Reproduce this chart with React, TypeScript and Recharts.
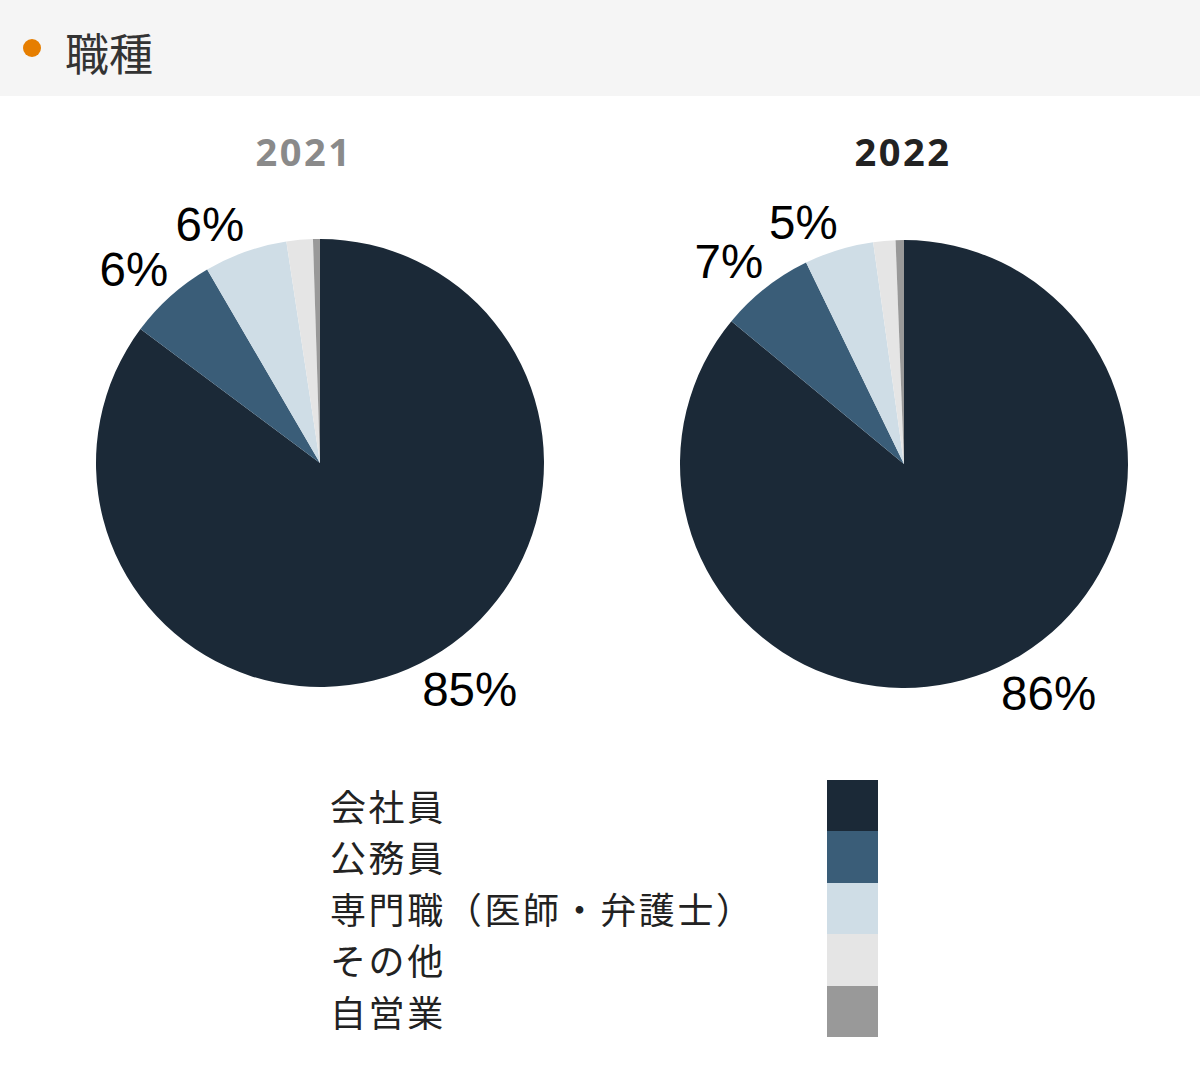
import React from 'react';
import { PieChart, Pie, Cell, Legend } from 'recharts';

const categories = ['会社員', '公務員', '専門職（医師・弁護士）', 'その他', '自営業'];
const colors = ['#1b2937', '#3a5d78', '#cfdde6', '#e5e5e5', '#999999'];
const values2021 = [85.2, 6.4, 6.0, 1.9, 0.5];
const values2022 = [86.0, 6.8, 5.0, 1.6, 0.6];
const years = ['2021', '2022'];

const data2021 = categories.map((name, i) => ({ name, value: values2021[i] }));
const data2022 = categories.map((name, i) => ({ name, value: values2022[i] }));

const RAD = Math.PI / 180;
const LABEL_FONT = 47.5;

const renderLabel = (props: any) => {
  const { cx, cy, midAngle, outerRadius, value } = props;
  if (value < 3) return null;
  const text = `${Math.round(value)}%`;
  const vx = Math.cos(-midAngle * RAD);
  const vy = Math.sin(-midAngle * RAD);
  const offset = 4;
  const px = cx + (outerRadius + offset) * vx;
  const py = cy + (outerRadius + offset) * vy;
  const nDigits = text.length - 1;
  const w = (nDigits * 0.556 + 0.889) * LABEL_FONT;
  const h = 46;
  const x = px + Math.sign(vx) * w / 2;
  const y = py + Math.sign(vy) * h / 2;
  return (
    <text
      x={x}
      y={y}
      textAnchor="middle"
      dominantBaseline="central"
      fill="#000"
      style={{ fontFamily: '"Liberation Sans", Arial, sans-serif', fontSize: LABEL_FONT }}
    >
      {text}
    </text>
  );
};

const LegendContent = () => (
  <div style={{ position: 'relative', width: 560, height: 260 }}>
    {categories.map((c, i) => (
      <div
        key={c}
        style={{
          position: 'absolute',
          left: 0,
          top: i * 51.4,
          height: 51.4,
          lineHeight: '51.4px',
          fontSize: 36,
          color: '#222',
          fontFamily: '"Noto Sans CJK JP", sans-serif',
          whiteSpace: 'nowrap',
          letterSpacing: 2.6,
        }}
      >
        {c}
      </div>
    ))}
    {categories.map((c, i) => (
      <div
        key={c + '-sw'}
        style={{
          position: 'absolute',
          left: 497,
          top: i * 51.4,
          width: 51,
          height: 51.4,
          background: colors[i],
        }}
      />
    ))}
  </div>
);

const yearStyle: React.CSSProperties = {
  position: 'absolute',
  width: 200,
  top: 126,
  textAlign: 'center',
  fontSize: 38,
  fontWeight: 700,
  lineHeight: '50px',
  letterSpacing: 2.5,
  fontFamily: '"Noto Sans", sans-serif',
};

export default function App() {
  return (
    <div style={{ position: 'absolute', left: 0, top: 0, width: 1200, height: 1090, background: '#fff', overflow: 'hidden' }}>
      <div style={{ position: 'absolute', left: 0, top: 0, width: 1200, height: 96, background: '#f5f5f5' }} />
      <div style={{ position: 'absolute', left: 23, top: 39, width: 18, height: 18, borderRadius: 9, background: '#e67e00' }} />
      <div
        style={{
          position: 'absolute',
          left: 65,
          top: 22,
          fontSize: 44,
          lineHeight: '60px',
          color: '#333',
          fontFamily: '"Noto Sans CJK JP", sans-serif',
        }}
      >
        職種
      </div>
      <div style={{ ...yearStyle, left: 204, color: '#8a8a8a' }}>{years[0]}</div>
      <div style={{ ...yearStyle, left: 803, color: '#222' }}>{years[1]}</div>
      <div style={{ position: 'absolute', left: 0, top: 0 }}>
        <PieChart width={1200} height={1090} margin={{ top: 0, right: 0, bottom: 0, left: 0 }}>
          <Pie
            data={data2021}
            dataKey="value"
            nameKey="name"
            cx={320}
            cy={463}
            outerRadius={224}
            startAngle={90}
            endAngle={-270}
            stroke="none"
            label={renderLabel}
            labelLine={false}
            isAnimationActive={false}
          >
            {data2021.map((d, i) => (
              <Cell key={d.name} fill={colors[i]} />
            ))}
          </Pie>
          <Pie
            data={data2022}
            dataKey="value"
            nameKey="name"
            cx={904}
            cy={464}
            outerRadius={224}
            startAngle={90}
            endAngle={-270}
            stroke="none"
            label={renderLabel}
            labelLine={false}
            isAnimationActive={false}
          >
            {data2022.map((d, i) => (
              <Cell key={d.name} fill={colors[i]} />
            ))}
          </Pie>
          <Legend
            content={<LegendContent />}
            wrapperStyle={{ position: 'absolute', left: 330, top: 780, width: 560, height: 260 }}
          />
        </PieChart>
      </div>
    </div>
  );
}
